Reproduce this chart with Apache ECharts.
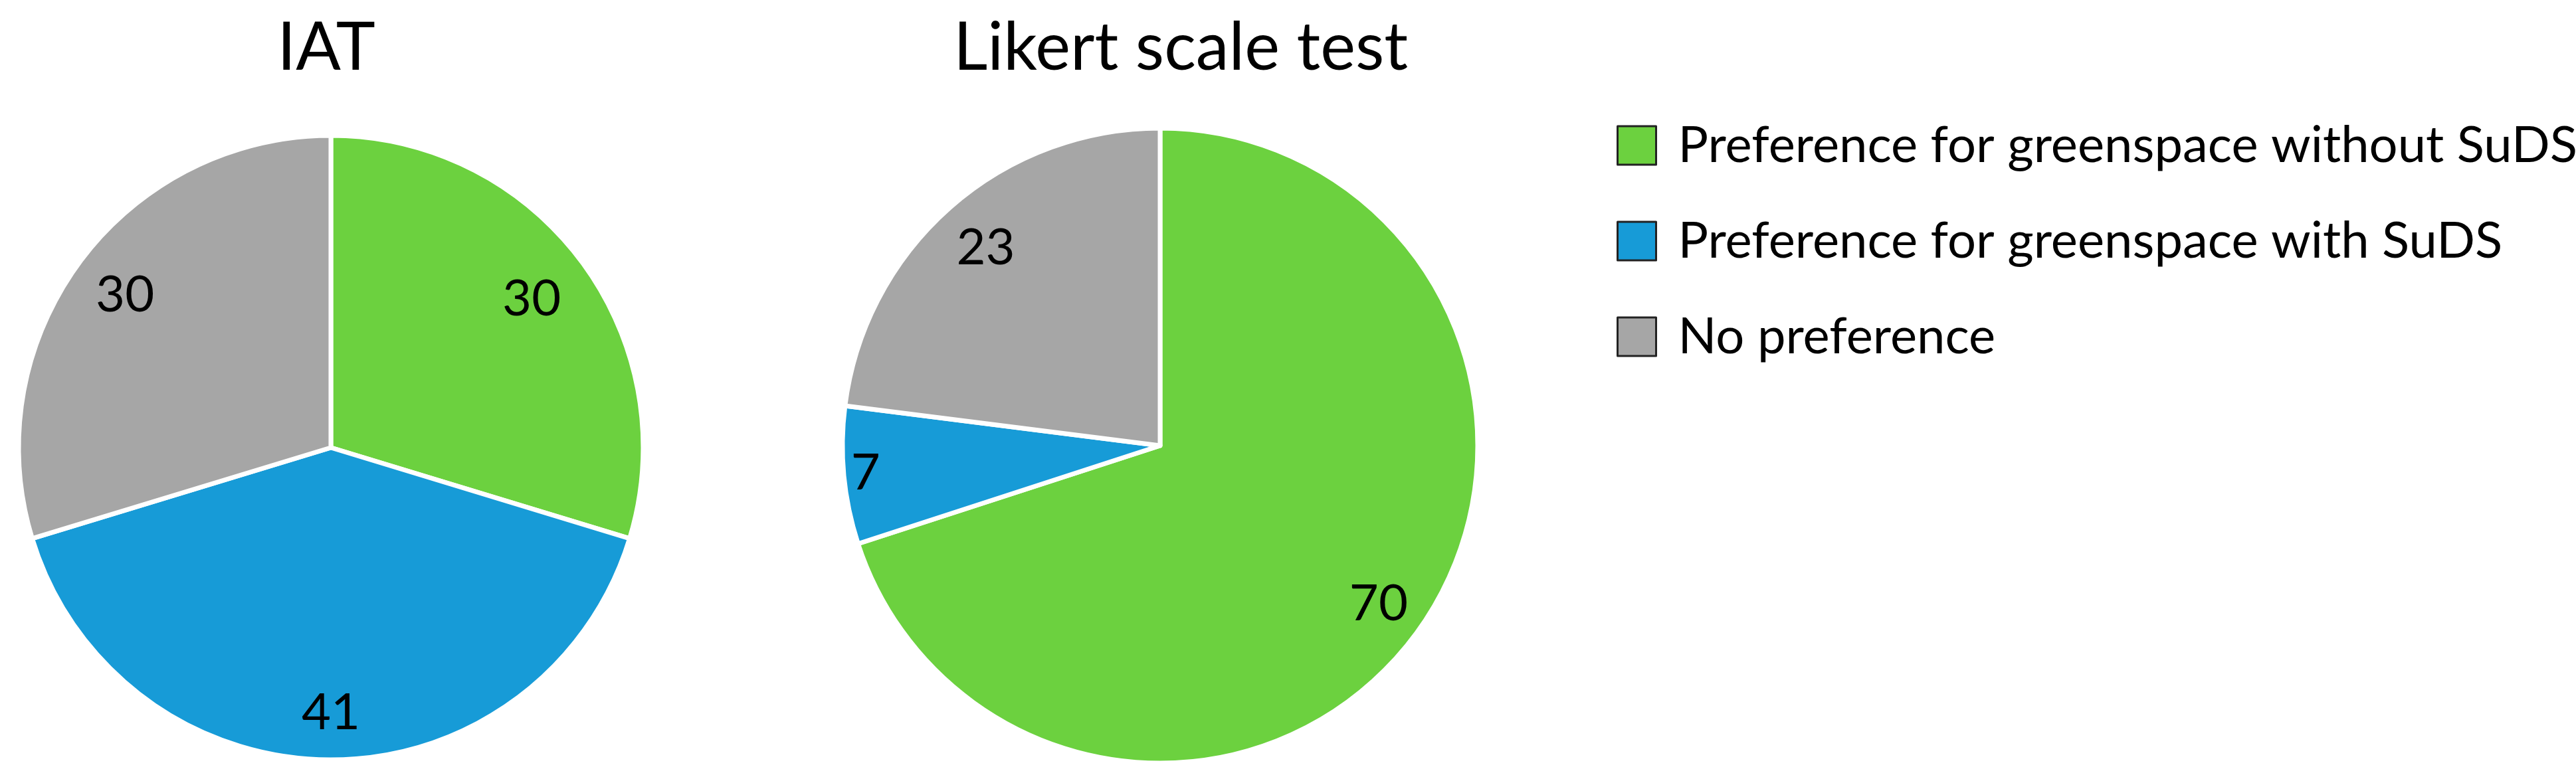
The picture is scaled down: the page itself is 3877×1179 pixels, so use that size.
<!DOCTYPE html>
<html>
<head>
<meta charset="utf-8">
<script src="https://cdn.jsdelivr.net/npm/echarts@6/dist/echarts.min.js"></script>
<style>
  html, body { margin: 0; padding: 0; background: #fff; }
  #main { width: 3877px; height: 1179px; }
</style>
</head>
<body>
<div id="main"></div>
<script>
// data
var categories = ['Preference for greenspace without SuDS', 'Preference for greenspace with SuDS', 'No preference'];
var iatValues = [30, 41, 30];
var likertValues = [70, 7, 23];
var chartTitles = ['IAT', 'Likert scale test'];

var colors = ['#6cd13f', '#179bd7', '#a6a6a6'];
var FONT = 'Lato';

// pie geometry (px)
var iatCenter = [498, 674], iatR = 470;
var likCenter = [1746, 671], likR = 478;
// how far out the value labels sit, as a share of the radius
var iatLabelPos = [0.79, 0.84, 0.81];
var likLabelPos = [0.84, 0.92, 0.82];

var chart = echarts.init(document.getElementById('main'), null, { renderer: 'canvas' });

function toData(vals) {
    return vals.map(function (v, i) {
        return { name: categories[i], value: v, itemStyle: { color: colors[i] } };
    });
}

// push the default inside label (sits at r/2) out along its own ray
function pushOut(center, fracs) {
    return function (params) {
        var r = params.labelRect;
        var lx = r.x + r.width / 2, ly = r.y + r.height / 2;
        var k = fracs[params.dataIndex] / 0.5 - 1;
        return { dx: (lx - center[0]) * k, dy: (ly - center[1]) * k };
    };
}

function pieSeries(name, vals, center, radius, fracs) {
    return {
        name: name,
        type: 'pie',
        center: center,
        radius: [0, radius],
        startAngle: 90,
        clockwise: true,
        avoidLabelOverlap: false,
        animation: false,
        itemStyle: { borderColor: '#fff', borderWidth: 7 },
        label: {
            show: true,
            position: 'inside',
            formatter: '{c}',
            color: '#000',
            fontFamily: FONT,
            fontSize: 76
        },
        labelLine: { show: false },
        labelLayout: pushOut(center, fracs),
        emphasis: { disabled: true },
        data: toData(vals)
    };
}

var option = {
    backgroundColor: '#fff',
    title: [{
        text: chartTitles[0],
        left: 486,
        top: 18,
        textAlign: 'center',
        textStyle: { fontFamily: FONT, fontSize: 100, fontWeight: 'normal', color: '#000' }
    }, {
        text: chartTitles[1],
        left: 1772,
        top: 18,
        textAlign: 'center',
        textStyle: { fontFamily: FONT, fontSize: 100, fontWeight: 'normal', color: '#000' }
    }],
    legend: {
        orient: 'vertical',
        left: 2428,
        top: 176,
        icon: 'rect',
        itemWidth: 58,
        itemHeight: 58,
        itemGap: 68,
        selectedMode: false,
        itemStyle: { borderColor: '#222', borderWidth: 3 },
        formatter: function (name) { return '{gap|}' + name; },
        textStyle: {
            fontFamily: FONT, fontSize: 76, color: '#000',
            rich: { gap: { width: 28 } }
        },
        data: categories
    },
    series: [
        pieSeries('IAT', iatValues, iatCenter, iatR, iatLabelPos),
        pieSeries('Likert', likertValues, likCenter, likR, likLabelPos)
    ]
};

chart.setOption(option);
</script>
</body>
</html>
